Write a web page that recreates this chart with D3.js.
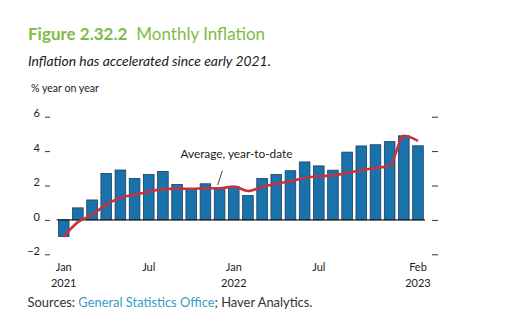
<!DOCTYPE html>
<html>
<head>
<meta charset="utf-8">
<script src="https://cdn.jsdelivr.net/npm/d3@7"></script>
<style>
  html, body { margin: 0; padding: 0; background: #fff; }
  svg { display: block; font-family: Lato, "Open Sans", sans-serif; }
</style>
</head>
<body>
<svg id="chart" width="505" height="331"></svg>
<script>
// ---- Data ----
const months = ["Jan 2021","Feb 2021","Mar 2021","Apr 2021","May 2021","Jun 2021","Jul 2021","Aug 2021","Sep 2021","Oct 2021","Nov 2021","Dec 2021",
                "Jan 2022","Feb 2022","Mar 2022","Apr 2022","May 2022","Jun 2022","Jul 2022","Aug 2022","Sep 2022","Oct 2022","Nov 2022","Dec 2022",
                "Jan 2023","Feb 2023"];
const monthlyInflation = [-0.97, 0.70, 1.16, 2.70, 2.90, 2.41, 2.64, 2.82, 2.06, 1.77, 2.10, 1.81,
                          1.94, 1.42, 2.41, 2.64, 2.86, 3.37, 3.14, 2.89, 3.94, 4.30, 4.37, 4.55,
                          4.89, 4.31];
const averageYTD = [-0.97, -0.13, 0.29, 0.89, 1.29, 1.47, 1.64, 1.79, 1.82, 1.81, 1.84, 1.84,
                    1.94, 1.68, 1.92, 2.10, 2.25, 2.44, 2.54, 2.58, 2.73, 2.89, 3.02, 3.15,
                    4.89, 4.60];
const yTicks = [-2, 0, 2, 4, 6];
const xTickMonths = ["Jan 2021", "Jul 2021", "Jan 2022", "Jul 2022", "Feb 2023"];

// ---- Layout ----
const svg = d3.select("#chart");
const x = d3.scaleBand().domain(months).range([56.7, 425]).paddingInner(0.25).paddingOuter(0.12);
const y = d3.scaleLinear().domain([-2, 6]).range([254.3, 116.7]);

// Title
const title = svg.append("text").attr("x", 28).attr("y", 39.5).attr("font-size", 17).attr("fill", "#7dbb48");
title.append("tspan").attr("font-weight", "bold").text("Figure 2.32.2");
title.append("tspan").attr("dx", 9).text("Monthly Inflation");

svg.append("text").attr("x", 28).attr("y", 65.5).attr("font-size", 13.9).attr("font-style", "italic")
  .attr("fill", "#1a1a1a").text("Inflation has accelerated since early 2021.");

svg.append("text").attr("x", 31).attr("y", 91.5).attr("font-size", 10.6).attr("fill", "#1a1a1a").text("% year on year");

// Left axis
const yAxisL = svg.append("g").attr("transform", "translate(50,0)")
  .call(d3.axisLeft(y).tickValues(yTicks).tickSize(5).tickPadding(5).tickFormat(d => d < 0 ? "\u2212" + Math.abs(d) : d));
yAxisL.select(".domain").remove();
yAxisL.selectAll("line").attr("stroke", "#333");
yAxisL.selectAll("text").attr("font-size", 11).attr("fill", "#222").attr("dy", "0.02em").attr("font-family", "Lato, sans-serif");

// Right axis
const yAxisR = svg.append("g").attr("transform", "translate(432,0)")
  .call(d3.axisRight(y).tickValues(yTicks).tickSize(6).tickFormat(""));
yAxisR.select(".domain").remove();
yAxisR.selectAll("line").attr("stroke", "#333");

// Bars
svg.append("g").selectAll("rect").data(months).join("rect")
  .attr("x", d => x(d))
  .attr("width", x.bandwidth())
  .attr("y", (d, i) => Math.min(y(monthlyInflation[i]), y(0)))
  .attr("height", (d, i) => Math.abs(y(monthlyInflation[i]) - y(0)))
  .attr("fill", "#1a72ad")
  .attr("stroke", "#1b3d5e")
  .attr("stroke-width", 0.8);

// Zero line
svg.append("line").attr("x1", 56.7).attr("x2", 425).attr("y1", y(0)).attr("y2", y(0))
  .attr("stroke", "#1a1a1a").attr("stroke-width", 1.2);

// Average line
const line = d3.line()
  .x((d, i) => x(months[i]) + x.bandwidth() / 2)
  .y(d => y(d))
  .curve(d3.curveMonotoneX);
svg.append("path").datum(averageYTD).attr("d", line)
  .attr("fill", "none").attr("stroke", "#c8323c").attr("stroke-width", 2.6).attr("stroke-linejoin", "round");

// Annotation
svg.append("text").attr("x", 180.5).attr("y", 158.3).attr("font-size", 11.8).attr("fill", "#1a1a1a")
  .text("Average, year-to-date");
svg.append("line").attr("x1", 222.3).attr("y1", 170.7).attr("x2", 217.7).attr("y2", 185)
  .attr("stroke", "#1a1a1a").attr("stroke-width", 0.8);

// X axis labels
const xAxis = svg.append("g").attr("transform", "translate(0,260)")
  .call(d3.axisBottom(x).tickValues(xTickMonths).tickSize(0).tickPadding(0).tickFormat(""));
xAxis.select(".domain").remove();
xAxis.selectAll(".tick text").each(function(d) {
  const parts = d.split(" ");
  const t = d3.select(this).attr("font-size", 11).attr("fill", "#222").attr("dy", 0).attr("y", 0).attr("font-family", "Lato, sans-serif");
  t.append("tspan").attr("x", 0).attr("y", 10.5).text(parts[0]);
  if (parts[0] === "Jan" || parts[0] === "Feb") {
    t.append("tspan").attr("x", 0).attr("y", 27).text(parts[1]);
  }
});

// Sources
const src = svg.append("text").attr("x", 27.5).attr("y", 307.3).attr("font-size", 12.9).attr("fill", "#333");
src.append("tspan").text("Sources: ");
src.append("tspan").attr("fill", "#3a9bc4").text("General Statistics Office");
src.append("tspan").text("; Haver Analytics.");
</script>
</body>
</html>
